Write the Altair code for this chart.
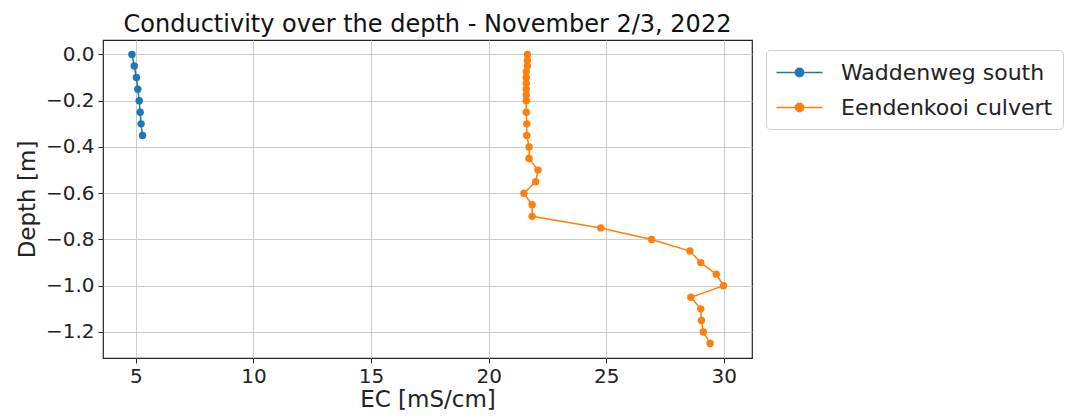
import altair as alt
import pandas as pd

series_names = ["Waddenweg south", "Eendenkooi culvert"]
series_colors = ["#1f77b4", "#ff7f0e"]

wadd_depth = [0.0, -0.05, -0.10, -0.15, -0.20, -0.25, -0.30, -0.35]
wadd_ec = [4.83, 4.93, 5.02, 5.08, 5.14, 5.18, 5.22, 5.28]

eend_depth = [0.0, -0.025, -0.05, -0.075, -0.10, -0.125, -0.15, -0.175, -0.20,
              -0.25, -0.30, -0.35, -0.40, -0.45, -0.50, -0.55, -0.60, -0.65,
              -0.70, -0.75, -0.80, -0.85, -0.90, -0.95, -1.00, -1.05, -1.10,
              -1.15, -1.20, -1.25]
eend_ec = [21.65, 21.65, 21.65, 21.6, 21.6, 21.6, 21.6, 21.6, 21.6,
           21.6, 21.62, 21.62, 21.72, 21.72, 22.1, 22.0, 21.5, 21.85,
           21.85, 24.77, 26.93, 28.56, 29.02, 29.68, 29.99, 28.6, 29.02,
           29.05, 29.13, 29.42]

x_ticks = [5, 10, 15, 20, 25, 30]
y_ticks = [0.0, -0.2, -0.4, -0.6, -0.8, -1.0, -1.2]

rows = []
for i, (d, e) in enumerate(zip(wadd_depth, wadd_ec)):
    rows.append({"series": series_names[0], "idx": i, "depth": d, "ec": e})
for i, (d, e) in enumerate(zip(eend_depth, eend_ec)):
    rows.append({"series": series_names[1], "idx": i, "depth": d, "ec": e})
df = pd.DataFrame(rows)

FONT = "DejaVu Sans"
sym_path = "M-2,0L2,0M-0.36,0A0.36,0.36,0,1,0,0.36,0A0.36,0.36,0,1,0,-0.36,0Z"

color = alt.Color(
    "series:N",
    scale=alt.Scale(domain=series_names, range=series_colors),
    sort=series_names,
    legend=alt.Legend(
        title=None, orient="none", legendX=663, legendY=10,
        symbolType=sym_path, symbolSize=529, symbolStrokeWidth=1.5,
        symbolOffset=11,
        labelFont=FONT, labelFontSize=22, labelColor="#222222",
        labelLimit=400, labelOffset=29, rowPadding=11,
        padding=10, strokeColor="#d0d0d0", cornerRadius=4, fillColor="white",
    ),
)

x = alt.X("ec:Q", title="EC [mS/cm]",
          scale=alt.Scale(domain=[3.6, 31.2], nice=False, zero=False),
          axis=alt.Axis(values=x_ticks, format="d", titlePadding=2, labelPadding=3))
y = alt.Y("depth:Q", title="Depth [m]",
          scale=alt.Scale(domain=[-1.3125, 0.0625], nice=False, zero=False),
          axis=alt.Axis(values=y_ticks, format=".1f"))

base = alt.Chart(df)
lines = base.mark_line(strokeWidth=1.5).encode(
    x=x, y=y, color=color, order=alt.Order("idx:Q"), detail="series:N")
points = base.mark_circle(size=55, opacity=1).encode(
    x=x, y=y, color=color)

chart = alt.layer(lines, points).properties(
    width=649, height=318,
    title=alt.TitleParams("Conductivity over the depth - November 2/3, 2022",
                          font=FONT, fontSize=24, fontWeight="normal",
                          color="#111111", anchor="middle", offset=3),
    autosize=alt.AutoSizeParams(type="none"),
    padding={"left": 95, "top": 32, "right": 316, "bottom": 61},
).configure_view(
    stroke="#222222", strokeWidth=1.2
).configure_axis(
    domain=False, grid=True, gridColor="#cccccc", gridWidth=1,
    ticks=True, tickColor="#222222", tickSize=5, tickWidth=1,
    labelFont=FONT, labelFontSize=20, labelColor="#222222", labelPadding=4,
    titleFont=FONT, titleFontSize=23, titleFontWeight="normal",
    titleColor="#222222", titlePadding=6,
)

chart.save("out.html", embed_options={"renderer": "svg", "actions": False})
